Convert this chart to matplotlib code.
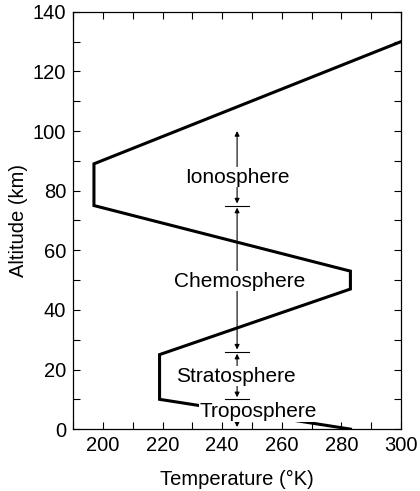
import matplotlib
matplotlib.use("Agg")
import matplotlib.pyplot as plt
from matplotlib.ticker import MultipleLocator

plt.rcParams['font.family'] = ['Liberation Sans', 'DejaVu Sans']

# Temperature profile
temps = [283, 219, 219, 283, 283, 197, 197, 300]
alts = [0, 10, 25, 47, 53, 75, 89, 130]

# Layer annotations
layer_names = ["Troposphere", "Stratosphere", "Chemosphere", "Ionosphere"]
layer_bottoms = [0, 10, 26, 75]
layer_tops = [10, 26, 75, 100]
label_x = [252, 244.5, 246, 245]
label_y = [5.8, 17.7, 49.6, 84.5]
arrow_x = 245
boundaries = [10, 26, 75]

fig = plt.figure(figsize=(4.2, 4.91), dpi=100)
ax = fig.add_axes([0.174, 0.126, 0.781, 0.850])

ax.plot(temps, alts, color='black', lw=2.2, solid_joinstyle='miter', zorder=2)

for b, t in zip(layer_bottoms, layer_tops):
    ax.annotate('', xy=(arrow_x, t), xytext=(arrow_x, b),
                arrowprops=dict(arrowstyle='<|-|>', lw=0.8, color='black',
                                mutation_scale=7, shrinkA=1.5, shrinkB=1.5 if t != 100 else 0),
                zorder=1)
for b in boundaries:
    ax.plot([arrow_x - 4, arrow_x + 4], [b, b], color='black', lw=0.8, zorder=1)

for name, x, y in zip(layer_names, label_x, label_y):
    ax.text(x, y, name, ha='center', va='center', fontsize=15, zorder=3,
            bbox=dict(facecolor='white', edgecolor='none', pad=0.5))

ax.set_xlim(190, 300)
ax.set_ylim(0, 140)
ax.xaxis.set_major_locator(MultipleLocator(20))
ax.xaxis.set_minor_locator(MultipleLocator(10))
ax.yaxis.set_major_locator(MultipleLocator(20))
ax.yaxis.set_minor_locator(MultipleLocator(10))
ax.set_xticks([200, 220, 240, 260, 280, 300])
ax.tick_params(which='both', direction='in', top=True, right=True,
               length=5, width=0.8, labelsize=14.5, pad=5)
for s in ax.spines.values():
    s.set_linewidth(0.9)

ax.set_xlabel('Temperature (°K)', fontsize=14.5, labelpad=11)
ax.set_ylabel('Altitude (km)', fontsize=14.5, labelpad=3)

fig.savefig('out.png', dpi=100)
